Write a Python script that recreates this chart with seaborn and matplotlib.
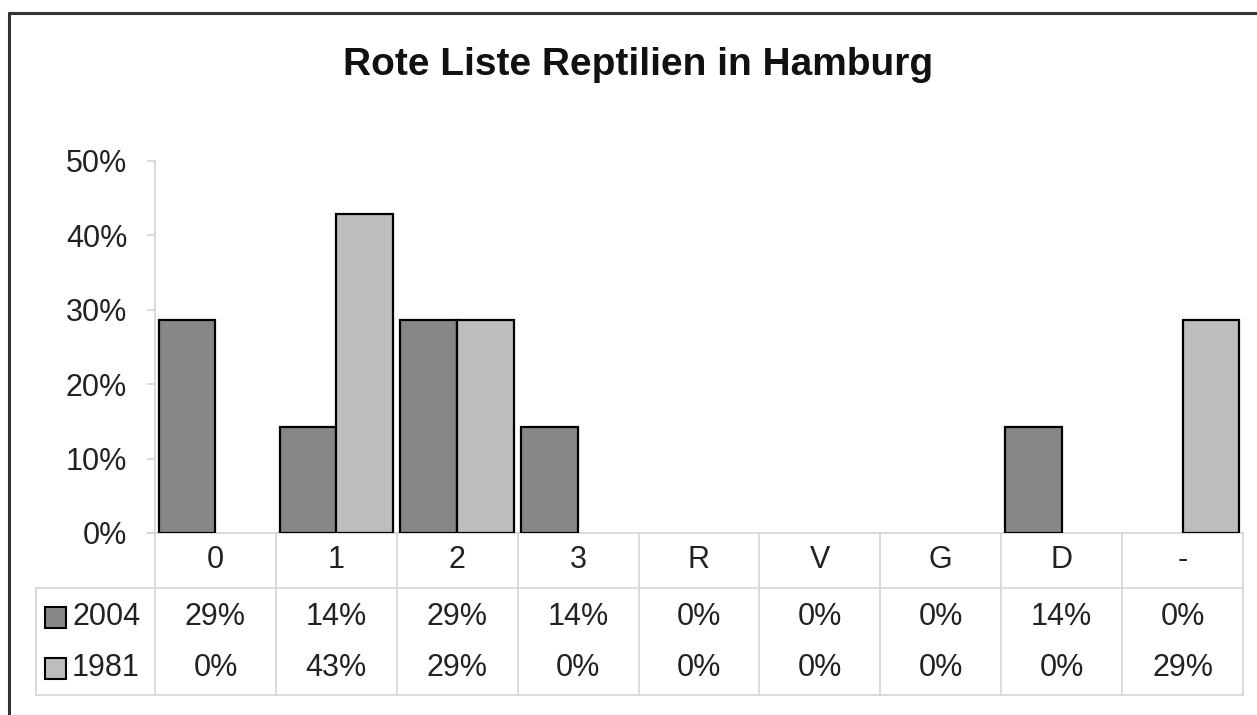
import matplotlib
matplotlib.use("Agg")
import matplotlib.pyplot as plt
import matplotlib.transforms as mtransforms
from matplotlib.lines import Line2D
from matplotlib.patches import Rectangle
import pandas as pd
import seaborn as sns

# Gefährdungskategorien und Anteile der Arten je Erhebungsjahr
kategorien = ["0", "1", "2", "3", "R", "V", "G", "D", "-"]
jahre = ["2004", "1981"]
anteile_2004 = [2 / 7, 1 / 7, 2 / 7, 1 / 7, 0, 0, 0, 1 / 7, 0]
anteile_1981 = [0, 3 / 7, 2 / 7, 0, 0, 0, 0, 0, 2 / 7]
farben = {"2004": "#878787", "1981": "#bdbdbd"}
titel = "Rote Liste Reptilien in Hamburg"

df = pd.DataFrame({
    "Kategorie": kategorien * 2,
    "Anteil": anteile_2004 + anteile_1981,
    "Jahr": [jahre[0]] * len(kategorien) + [jahre[1]] * len(kategorien),
})

sns.set_theme(style="white")
plt.rcParams["font.family"] = ["Liberation Sans", "DejaVu Sans"]

W, H = 1257, 715
fig = plt.figure(figsize=(W / 100, H / 100), dpi=100)
fig.patch.set_facecolor("white")

# Achsenbereich in Pixeln: links 155, rechts 1243, oben 161, unten 533
ax = fig.add_axes([155 / W, 1 - 533 / H, (1243 - 155) / W, (533 - 161) / H])

sns.barplot(data=df, x="Kategorie", y="Anteil", hue="Jahr", order=kategorien,
            hue_order=jahre, palette=farben, edgecolor="black", linewidth=1.6,
            width=0.94, gap=0, legend=False, ax=ax, saturation=1)

# Balken ohne Höhe nicht umranden
for p in ax.patches:
    if abs(p.get_height()) < 1e-9:
        p.set_linewidth(0)

grid_col = "#d4d4d4"
fs = 22

ax.set_xlim(-0.5, len(kategorien) - 0.5)
ax.set_ylim(0, 0.5)
ax.set_yticks([0, 0.1, 0.2, 0.3, 0.4, 0.5])
ax.set_yticklabels([f"{int(round(v * 100))}%" for v in ax.get_yticks()],
                   fontsize=fs, color="#222222")
ax.set_xticks([])
ax.set_xlabel("")
ax.set_ylabel("")
for s in ["top", "right", "bottom"]:
    ax.spines[s].set_visible(False)
ax.spines["left"].set_color(grid_col)
ax.spines["left"].set_linewidth(1.2)
ax.tick_params(axis="y", left=True, length=6, width=1.2, color=grid_col, pad=14)

# Titel
fig.text(638 / W, 1 - 65 / H, titel, ha="center", va="center",
         fontsize=28, fontweight="bold", color="#111111")

# Datentabelle unter dem Diagramm
tr = mtransforms.blended_transform_factory(ax.transData, ax.transAxes)
ph = 533 - 161
def yax(py):
    return (533 - py) / ph

left_x = (36 - 155) / 120.9 - 0.5   # linker Rand der Legendenspalte in Datenkoordinaten
right_x = len(kategorien) - 0.5
y_head = yax(588)
y_bot = yax(695)
tick_x = -0.5 - 8 / 120.9

line_kw = dict(color=grid_col, linewidth=1.2, transform=tr, clip_on=False)
ax.add_line(Line2D([tick_x, right_x], [0, 0], zorder=0.5, **line_kw))
ax.add_line(Line2D([left_x, right_x], [y_head, y_head], **line_kw))
ax.add_line(Line2D([left_x, right_x], [y_bot, y_bot], **line_kw))
ax.add_line(Line2D([left_x, left_x], [y_head, y_bot], **line_kw))
for i in range(len(kategorien) + 1):
    xb = i - 0.5
    ax.add_line(Line2D([xb, xb], [0, y_bot], **line_kw))

for i, k in enumerate(kategorien):
    ax.text(i, yax(560), k, ha="center", va="center", fontsize=fs,
            color="#222222", transform=tr, clip_on=False)

zeilen_y = [yax(617), yax(668)]
for jahr, werte, yy in zip(jahre, [anteile_2004, anteile_1981], zeilen_y):
    for i, v in enumerate(werte):
        ax.text(i, yy, f"{v:.0%}", ha="center", va="center", fontsize=fs,
                color="#222222", transform=tr, clip_on=False)
    # Legendensymbol und Jahreszahl
    sq = 21
    fig.add_artist(Rectangle((45 / W, yy * ph / H + (1 - 533 / H) - sq / 2 / H),
                             sq / W, sq / H, facecolor=farben[jahr],
                             edgecolor="black", linewidth=1.5,
                             transform=fig.transFigure))
    fig.text(72 / W, yy * ph / H + (1 - 533 / H), jahr, ha="left", va="center",
             fontsize=fs, color="#222222")

# Rahmen des Diagrammbereichs (oben und links)
border_kw = dict(color="#333333", linewidth=2.2, transform=fig.transFigure)
fig.add_artist(Line2D([9 / W, 1.0], [1 - 13 / H, 1 - 13 / H], **border_kw))
fig.add_artist(Line2D([9 / W, 9 / W], [1 - 13 / H, 0.0], **border_kw))

fig.savefig("out.png", dpi=100, facecolor="white")
